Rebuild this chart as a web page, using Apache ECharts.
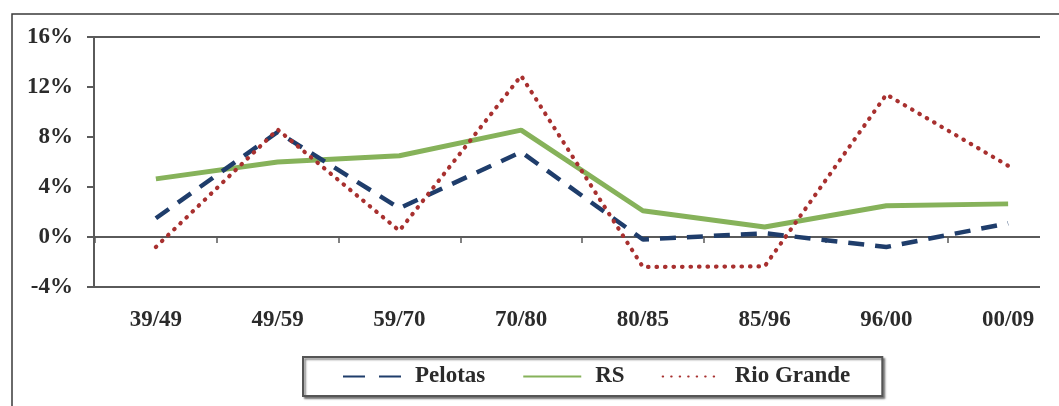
<!DOCTYPE html>
<html>
<head>
<meta charset="utf-8">
<style>
html,body{margin:0;padding:0;background:#fff;}
#chart{width:1059px;height:406px;}
</style>
<script src="https://cdn.jsdelivr.net/npm/echarts@6/dist/echarts.min.js"></script>
</head>
<body>
<div id="chart"></div>
<script>
var categories = ['39/49','49/59','59/70','70/80','80/85','85/96','96/00','00/09'];
var pelotas   = [1.5, 8.4, 2.3, 6.8, -0.2, 0.3, -0.8, 1.1];
var rs        = [4.65, 6.0, 6.5, 8.55, 2.1, 0.8, 2.5, 2.65];
var rioGrande = [-0.8, 8.6, 0.5, 12.9, -2.4, -2.35, 11.4, 5.7];
var yTicks    = { min: -4, max: 16, interval: 4 };

var FONT = 'Liberation Serif';
var TXT = '#2b2b2b';
var AX = '#5a5a5a';

var chart = echarts.init(document.getElementById('chart'));
chart.setOption({
  animation: false,
  backgroundColor: '#fff',
  graphic: [{
    type: 'rect', z: -1,
    shape: { x: 12, y: 14, width: 2000, height: 1000 },
    style: { fill: 'none', stroke: '#3a3a3a', lineWidth: 1.5 }
  }],
  grid: [
    { left: 95, right: -10, top: 37, bottom: 119, outerBoundsMode: 'none', containLabel: false },
    { left: 94, right: 19, top: 37, bottom: 119, outerBoundsMode: 'none', containLabel: false }
  ],
  xAxis: [
    {
      type: 'category', gridIndex: 0, data: categories, boundaryGap: true,
      axisLine: { show: true, onZero: true, lineStyle: { color: 'rgba(0,0,0,0)' } },
      axisTick: { show: true, length: 6, lineStyle: { color: AX, width: 1.5 } },
      axisLabel: { margin: 22, fontFamily: FONT, fontSize: 23, fontWeight: 'bold', color: TXT },
      splitLine: { show: false }
    },
    { type: 'value', gridIndex: 1, min: 0, max: 1, show: false }
  ],
  yAxis: [
    { type: 'value', gridIndex: 0, min: yTicks.min, max: yTicks.max, interval: yTicks.interval, show: false },
    {
      type: 'value', gridIndex: 1, min: yTicks.min, max: yTicks.max, interval: yTicks.interval,
      axisLine: { show: true, lineStyle: { color: AX, width: 2 } },
      axisTick: { show: true, length: 7, lineStyle: { color: AX, width: 2 } },
      axisLabel: { margin: 21, formatter: '{value}%', fontFamily: FONT, fontSize: 23, fontWeight: 'bold', color: TXT },
      splitLine: { show: true, lineStyle: { width: 2, color: [AX, AX, 'rgba(0,0,0,0)', 'rgba(0,0,0,0)', 'rgba(0,0,0,0)', AX] } }
    }
  ],
  legend: {
    left: 303, top: 357,
    orient: 'horizontal',
    padding: [8, 32, 8, 39],
    itemGap: 37,
    itemWidth: 58, itemHeight: 10,
    borderColor: '#555', borderWidth: 2,
    backgroundColor: '#fff',
    shadowColor: 'rgba(0,0,0,0.45)', shadowBlur: 2, shadowOffsetX: 2, shadowOffsetY: 2,
    itemStyle: { opacity: 0 },
    textStyle: { fontFamily: FONT, fontSize: 23, fontWeight: 'bold', color: TXT, padding: [0, 0, 0, 9] },
    data: [
      { name: 'Pelotas', lineStyle: { type: [22, 14] } },
      { name: 'RS' },
      { name: 'Rio Grande' }
    ]
  },
  series: [
    {
      name: 'Pelotas', type: 'line', xAxisIndex: 0, yAxisIndex: 0, data: pelotas,
      symbol: 'none', z: 3,
      lineStyle: { color: '#1f3d6b', width: 4.5, type: [16, 11], cap: 'butt' },
      itemStyle: { color: '#1f3d6b' }
    },
    {
      name: 'RS', type: 'line', xAxisIndex: 0, yAxisIndex: 0, data: rs,
      symbol: 'none', z: 2,
      lineStyle: { color: '#86b25a', width: 5 },
      itemStyle: { color: '#86b25a' }
    },
    {
      name: 'Rio Grande', type: 'line', xAxisIndex: 0, yAxisIndex: 0, data: rioGrande,
      symbol: 'none', z: 4,
      lineStyle: { color: '#a8302f', width: 4.2, type: [0.5, 8], cap: 'round' },
      itemStyle: { color: '#a8302f' }
    }
  ]
});
</script>
</body>
</html>
